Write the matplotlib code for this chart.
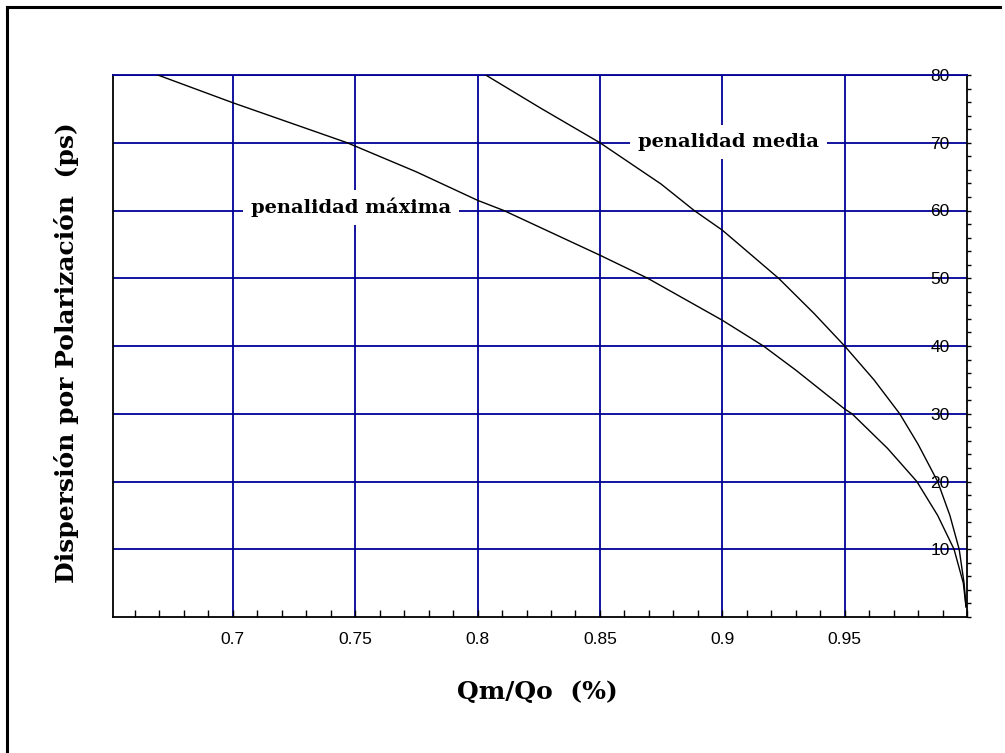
import matplotlib
matplotlib.use("Agg")
import matplotlib.pyplot as plt
from matplotlib.ticker import MultipleLocator
from matplotlib.lines import Line2D

# curves: Qm/Qo against PMD (ps)
media_x = [0.8033, 0.8258, 0.85, 0.875, 0.8885, 0.90, 0.923, 0.9375, 0.95,
           0.962, 0.9725, 0.980, 0.988, 0.993, 0.9968, 0.9988, 0.9996]
media_y = [80, 75.1, 70, 63.9, 60, 57.1, 50, 44.8, 40,
           35, 30, 25.5, 20, 15, 10, 5, 1.5]

maxima_x = [0.6693, 0.70, 0.7467, 0.775, 0.80, 0.8107, 0.85, 0.8695, 0.90,
            0.9168, 0.93, 0.95, 0.953, 0.9675, 0.9795, 0.988, 0.9947, 0.9985, 0.9996]
maxima_y = [80, 75.9, 70, 65.7, 61.5, 60, 53.4, 50, 43.8,
            40, 36.45, 30.7, 30, 24.9, 20, 15, 10, 5, 1.5]

x_ticks = [0.7, 0.75, 0.8, 0.85, 0.9, 0.95]
x_tick_labels = ['0.7', '0.75', '0.8', '0.85', '0.9', '0.95']
y_ticks = [10, 20, 30, 40, 50, 60, 70, 80]
y_tick_labels = ['10', '20', '30', '40', '50', '60', '70', '80']

grid_blue = '#000096'
tick_font = ['Liberation Sans Narrow', 'Liberation Sans', 'DejaVu Sans']
serif = ['DejaVu Serif']

fig = plt.figure(figsize=(10.05, 7.53), dpi=100)
ax = fig.add_axes([113/1005, 1 - 617/753, 854/1005, 542/753])

ax.plot(maxima_x, maxima_y, color='black', lw=1.0, zorder=3)
ax.plot(media_x, media_y, color='black', lw=1.0, zorder=3)

ax.set_xlim(0.651, 1.0)
ax.set_ylim(0, 80)

# x axis: ticks pointing up, minor every 0.01
ax.set_xticks(x_ticks)
ax.set_xticklabels(x_tick_labels, family=tick_font, fontsize=12.5)
ax.xaxis.set_minor_locator(MultipleLocator(0.01))
ax.tick_params(axis='x', which='both', direction='in', length=5, width=1, pad=11,
               top=False, colors='black')

# y axis on the right, labels sitting inside on the grid lines
ax.yaxis.tick_right()
ax.set_yticks(y_ticks)
ax.set_yticklabels(y_tick_labels, family=tick_font, fontsize=12.5)
ax.yaxis.set_minor_locator(MultipleLocator(2))
ax.tick_params(axis='y', which='both', direction='out', length=3, width=1, pad=-15.5,
               left=False)
for t in ax.get_yticklabels():
    t.set_horizontalalignment('right')

ax.grid(True, which='major', color=grid_blue, lw=1.3)
ax.set_axisbelow(True)

for s in ['left', 'right', 'bottom']:
    ax.spines[s].set_color('black')
    ax.spines[s].set_linewidth(1.3)
ax.spines['top'].set_color(grid_blue)
ax.spines['top'].set_linewidth(1.3)

# white boxes hide the grid, curves stay on top
box = dict(boxstyle='square,pad=0.4', fc='white', ec='none')
ax.text(0.7484, 60.5, 'penalidad máxima', family=serif, weight='bold', fontsize=14,
        ha='center', va='center', bbox=box, zorder=2)
ax.text(0.9025, 70.1, 'penalidad media', family=serif, weight='bold', fontsize=14,
        ha='center', va='center', bbox=box, zorder=2)

fig.text(67/1005, 1 - 353/753, 'Dispersión por Polarización  (ps)', rotation=90,
         family=serif, weight='bold', fontsize=18, ha='center', va='center')
fig.text(537/1005, 1 - 692/753, 'Qm/Qo  (%)', family=serif, weight='bold',
         fontsize=18, ha='center', va='center')

# outer frame (only top and left edges show)
fig.add_artist(Line2D([7/1005, 7/1005], [0, 1 - 7/753], transform=fig.transFigure,
                      color='black', lw=2.2))
fig.add_artist(Line2D([7/1005, 1000/1005], [1 - 7/753, 1 - 7/753],
                      transform=fig.transFigure, color='black', lw=2.2))

fig.savefig('out.png', dpi=100)
